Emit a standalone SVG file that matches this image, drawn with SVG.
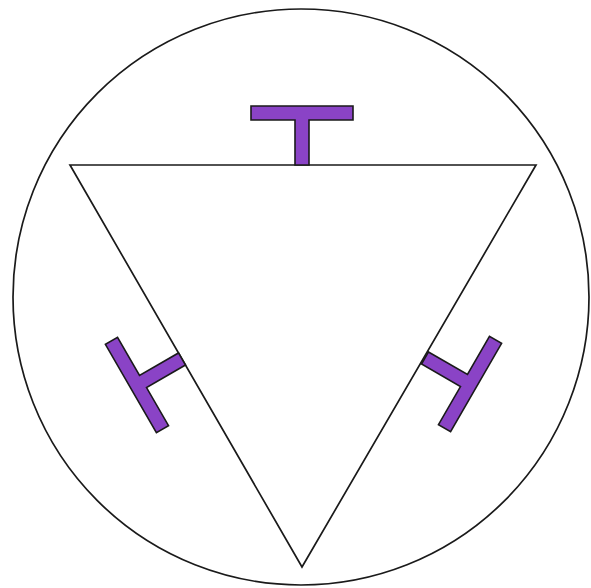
<svg xmlns="http://www.w3.org/2000/svg" width="591" height="588" viewBox="0 0 591 588">
<style>
.line{fill:none;stroke:#1a1a1a;stroke-width:1.7}
.t{fill:#8A43C6;stroke:#1a1a1a;stroke-width:1.6;stroke-linejoin:miter}
</style>
<defs>
<path id="tee" class="t" d="M-7,0 L-7,-45 L-51,-45 L-51,-59 L51,-59 L51,-45 L7,-45 L7,0 Z"/>
</defs>
<rect width="591" height="588" fill="#fff"/>
<g id="circle"><circle class="line" cx="301" cy="297" r="288"/></g>
<g id="triangle"><polygon class="line" points="70,165 536,165 302,567"/></g>
<g id="tee-top"><use href="#tee" transform="translate(302,165)"/></g>
<g id="tee-left"><use href="#tee" transform="translate(182,359) rotate(-120)"/></g>
<g id="tee-right"><use href="#tee" transform="translate(425,358) rotate(120)"/></g>
</svg>
